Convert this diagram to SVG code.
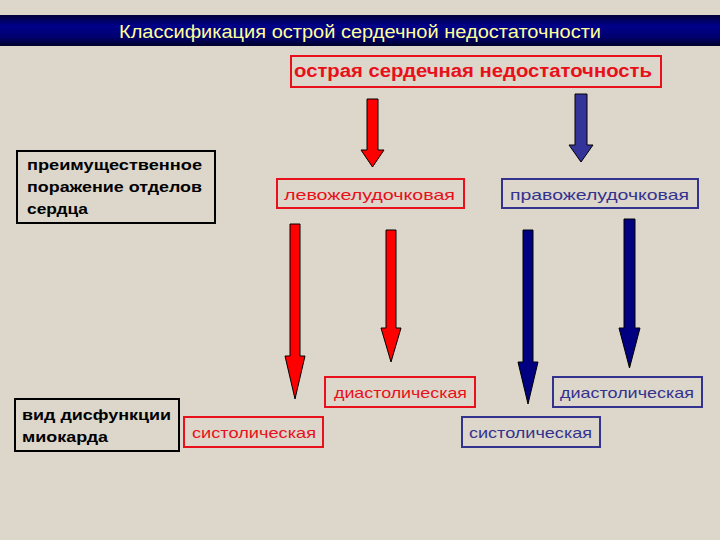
<svg xmlns="http://www.w3.org/2000/svg" width="720" height="540" viewBox="0 0 720 540">
<defs>
<linearGradient id="bar" x1="0" y1="0" x2="0" y2="1">
<stop offset="0" stop-color="#00003a"/>
<stop offset="0.35" stop-color="#00008a"/>
<stop offset="0.7" stop-color="#000070"/>
<stop offset="1" stop-color="#00002a"/>
</linearGradient>
<style>
.bg{fill:#ddd6ca}
.box{fill:none;stroke-width:2}
.rb{stroke:#e8101a}
.bb{stroke:#33338f}
.kb{stroke:#000000}
.t{font-family:"Liberation Sans",Arial,sans-serif;font-size:15px}
.red{fill:#e8101a}
.blue{fill:#33338f}
.blk{fill:#000000}
.b{font-weight:bold}
.ar{stroke:#000000;stroke-width:1}
.ra{fill:#ff0000}
.ba{fill:#000080}
.bt{fill:#333399}
</style>
</defs>
<rect class="bg" x="0" y="0" width="720" height="540"/>
<g id="title">
<rect x="0" y="15" width="720" height="31" fill="url(#bar)"/>
<text x="119" y="38" font-family="'Liberation Sans',Arial,sans-serif" font-size="18" fill="#ffff99" textLength="482" lengthAdjust="spacingAndGlyphs">Классификация острой сердечной недостаточности</text>
</g>
<g id="root">
<rect class="box rb" x="291" y="56" width="370" height="31"/>
<text class="t b red" x="294" y="77" font-size="18" textLength="358" lengthAdjust="spacingAndGlyphs" style="font-size:18px">острая сердечная недостаточность</text>
</g>
<g id="label-sections">
<rect class="box kb" x="17" y="151" width="198" height="72"/>
<text class="t b blk" x="27" y="170" textLength="175" lengthAdjust="spacingAndGlyphs">преимущественное</text>
<text class="t b blk" x="27" y="192" textLength="175" lengthAdjust="spacingAndGlyphs">поражение отделов</text>
<text class="t b blk" x="27" y="214" textLength="61" lengthAdjust="spacingAndGlyphs">сердца</text>
</g>
<g id="left-ventricular">
<rect class="box rb" x="277" y="179" width="187" height="29"/>
<text class="t red" x="284" y="200" textLength="171" lengthAdjust="spacingAndGlyphs">левожелудочковая</text>
</g>
<g id="right-ventricular">
<rect class="box bb" x="502" y="179" width="196" height="29"/>
<text class="t blue" x="510" y="200" textLength="179" lengthAdjust="spacingAndGlyphs">правожелудочковая</text>
</g>
<g id="label-dysfunction">
<rect class="box kb" x="15" y="399" width="164" height="52"/>
<text class="t b blk" x="22" y="420" textLength="149" lengthAdjust="spacingAndGlyphs">вид дисфункции</text>
<text class="t b blk" x="22" y="442" textLength="86" lengthAdjust="spacingAndGlyphs">миокарда</text>
</g>
<g id="lv-systolic">
<rect class="box rb" x="184" y="417" width="139" height="30"/>
<text class="t red" x="192" y="438" textLength="124" lengthAdjust="spacingAndGlyphs">систолическая</text>
</g>
<g id="lv-diastolic">
<rect class="box rb" x="325" y="377" width="150" height="30"/>
<text class="t red" x="334" y="398" textLength="133" lengthAdjust="spacingAndGlyphs">диастолическая</text>
</g>
<g id="rv-systolic">
<rect class="box bb" x="462" y="417" width="138" height="30"/>
<text class="t blue" x="469" y="438" textLength="123" lengthAdjust="spacingAndGlyphs">систолическая</text>
</g>
<g id="rv-diastolic">
<rect class="box bb" x="553" y="377" width="149" height="30"/>
<text class="t blue" x="560" y="398" textLength="134" lengthAdjust="spacingAndGlyphs">диастолическая</text>
</g>
<g id="connectors">
<path class="ar ra" d="M367,99 H378 V150 H384 L372.5,167 L361,150 H367 Z"/>
<path class="ar bt" d="M575,94 H587 V145 H593 L581,162 L569,145 H575 Z"/>
<path class="ar ra" d="M290,224 H300 V356 H305 L295,399 L285,356 H290 Z"/>
<path class="ar ra" d="M386,230 H396 V328 H401 L391,362 L381,328 H386 Z"/>
<path class="ar ba" d="M523,230 H533 V362 H538 L528,404 L518,362 H523 Z"/>
<path class="ar ba" d="M624,219 H635 V328 H640 L629.5,368 L619,328 H624 Z"/>
</g>
</svg>
